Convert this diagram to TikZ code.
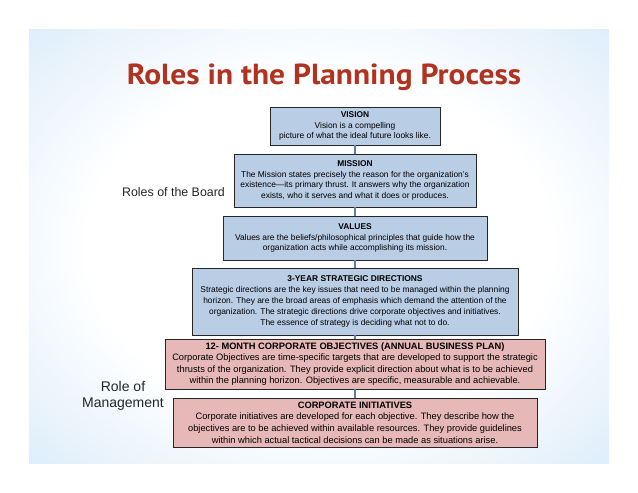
\documentclass[tikz,border=0pt]{standalone}
\usepackage{fontspec}
\usepackage{graphicx}
\setmainfont{Liberation Sans}
\newfontfamily\titlefont{PT Sans}
\definecolor{slideblue}{HTML}{BEDDF6}
\definecolor{boxblue}{HTML}{B9CDE5}
\definecolor{boxpink}{HTML}{E6B9B8}
\definecolor{titlered}{HTML}{B0321F}
\definecolor{connblue}{HTML}{5B7FA8}
\pgfdeclareradialshading{slidebg}{\pgfpoint{0bp}{0bp}}{color(0bp)=(white); color(20bp)=(white); color(50bp)=(slideblue); color(72bp)=(slideblue)}
\tikzset{
  boxbase/.style={rectangle, draw=black!85, line width=0.8pt, inner sep=0pt, align=center},
  bluebox/.style={boxbase, fill=boxblue, font=\fontsize{8.4}{10.8}\selectfont},
  pinkbox/.style={boxbase, fill=boxpink, font=\fontsize{9.3}{11.6}\selectfont},
  conn/.style={draw=connblue, line width=1.6pt},
  sidelabel/.style={align=center, text=black!85, inner sep=0pt}
}
\begin{document}
\begin{tikzpicture}[x=1pt,y=-1pt]
\useasboundingbox (0,0) rectangle (638,493);
\fill[white] (0,0) rectangle (638,493);
\shade[shading=slidebg] (29,29) rectangle (609,463);
\node[text=titlered, font=\titlefont\bfseries\fontsize{29}{32}\selectfont, inner sep=0pt] (title) at (324,77.5) {\scalebox{1.084}[1]{Roles in the Planning Process}};
\node[bluebox, minimum width=170pt, minimum height=38pt] (vision) at (355,126)
  {\textbf{VISION}\\Vision is a compelling\\picture of what the ideal future looks like.};
\node[bluebox, minimum width=242pt, minimum height=53pt] (mission) at (355,180.5)
  {\textbf{MISSION}\\The Mission states precisely the reason for the organization's\\existence---its primary thrust. It answers why the organization\\exists, who it serves and what it does or produces.};
\node[bluebox, minimum width=264pt, minimum height=44pt] (values) at (355,238)
  {\textbf{VALUES}\\Values are the beliefs/philosophical principles that guide how the\\organization acts while accomplishing its mission.};
\node[bluebox, minimum width=326pt, minimum height=67pt] (strategic) at (355,301.5)
  {\textbf{3-YEAR STRATEGIC DIRECTIONS}\\Strategic directions are the key issues that need to be managed within the planning\\horizon. They are the broad areas of emphasis which demand the attention of the\\organization. The strategic directions drive corporate objectives and initiatives.\\The essence of strategy is deciding what not to do.};
\node[pinkbox, minimum width=380pt, minimum height=50pt] (objectives) at (355,364)
  {\textbf{12- MONTH CORPORATE OBJECTIVES (ANNUAL BUSINESS PLAN)}\\Corporate Objectives are time-specific targets that are developed to support the strategic\\thrusts of the organization. They provide explicit direction about what is to be achieved\\within the planning horizon. Objectives are specific, measurable and achievable.};
\node[pinkbox, minimum width=364pt, minimum height=49pt] (initiatives) at (355,422.5)
  {\textbf{CORPORATE INITIATIVES}\\Corporate initiatives are developed for each objective. They describe how the\\objectives are to be achieved within available resources. They provide guidelines\\within which actual tactical decisions can be made as situations arise.};
\draw[conn] (vision.south) -- (mission.north);
\draw[conn] (mission.south) -- (values.north);
\draw[conn] (values.south) -- (strategic.north);
\draw[conn] (strategic.south) -- (objectives.north);
\draw[conn] (objectives.south) -- (initiatives.north);
\node[sidelabel, font=\fontsize{12.4}{14}\selectfont] (board) at (173.5,192) {Roles of the Board};
\node[sidelabel, font=\fontsize{14}{16.5}\selectfont] (mgmt) at (123,396) {Role of\\Management};
\end{tikzpicture}
\end{document}
